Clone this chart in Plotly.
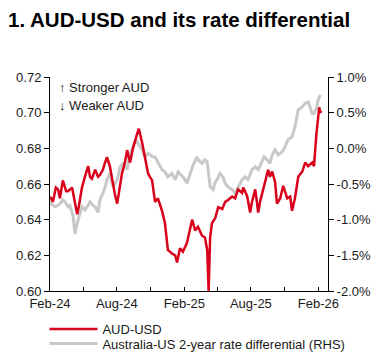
import plotly.graph_objects as go

# ---- Data ----
aud_dates = [
    "2024-02-01", "2024-02-09", "2024-02-17", "2024-02-23", "2024-02-28", "2024-03-07", "2024-03-16",
    "2024-03-21", "2024-04-01", "2024-04-09", "2024-04-15", "2024-04-20", "2024-04-28", "2024-05-06",
    "2024-05-15", "2024-05-20", "2024-05-25", "2024-06-03", "2024-06-11", "2024-06-16", "2024-06-24",
    "2024-06-30", "2024-07-05", "2024-07-13", "2024-07-22", "2024-07-27", "2024-08-02", "2024-08-07",
    "2024-08-15", "2024-08-23", "2024-08-29", "2024-09-06", "2024-09-14", "2024-09-25", "2024-09-30",
    "2024-10-09", "2024-10-17", "2024-10-25", "2024-10-30", "2024-11-05", "2024-11-13", "2024-11-21",
    "2024-12-02", "2024-12-10", "2024-12-18", "2024-12-29", "2025-01-07", "2025-01-12", "2025-01-20",
    "2025-01-28", "2025-02-08", "2025-02-16", "2025-02-22", "2025-03-02", "2025-03-10", "2025-03-21",
    "2025-03-29", "2025-04-04", "2025-04-08", "2025-04-12", "2025-04-17", "2025-04-26", "2025-05-04",
    "2025-05-15", "2025-05-23", "2025-05-31", "2025-06-11", "2025-06-19", "2025-06-27", "2025-07-08",
    "2025-07-11", "2025-07-16", "2025-07-22", "2025-07-30", "2025-08-04", "2025-08-13", "2025-08-18",
    "2025-08-21", "2025-08-26", "2025-09-03", "2025-09-09", "2025-09-17", "2025-09-22", "2025-09-28",
    "2025-10-06", "2025-10-11", "2025-10-20", "2025-10-28", "2025-11-08", "2025-11-16", "2025-11-21",
    "2025-11-29", "2025-12-08", "2025-12-19", "2025-12-27", "2026-01-04", "2026-01-15", "2026-01-20",
    "2026-01-26", "2026-01-31", "2026-02-03", "2026-02-06", "2026-02-08",
]
aud_usd = [
    0.653, 0.650, 0.658, 0.657, 0.652, 0.662, 0.656,
    0.656, 0.658, 0.650, 0.643, 0.648, 0.658, 0.664,
    0.670, 0.664, 0.663, 0.668, 0.664, 0.665, 0.668,
    0.672, 0.675, 0.670, 0.659, 0.654, 0.649, 0.656,
    0.666, 0.672, 0.679, 0.672, 0.680, 0.688, 0.691,
    0.683, 0.675, 0.666, 0.664, 0.662, 0.650, 0.652,
    0.645, 0.638, 0.623, 0.621, 0.620, 0.616, 0.624,
    0.622, 0.627, 0.634, 0.640, 0.634, 0.636, 0.631,
    0.630, 0.623, 0.600, 0.630, 0.638, 0.641, 0.647,
    0.646, 0.650, 0.651, 0.653, 0.652, 0.657, 0.655,
    0.658, 0.656, 0.653, 0.644, 0.650, 0.657, 0.650,
    0.644, 0.650, 0.657, 0.662, 0.668, 0.664, 0.667,
    0.661, 0.649, 0.652, 0.659, 0.652, 0.653, 0.645,
    0.652, 0.664, 0.667, 0.672, 0.670, 0.672, 0.670,
    0.687, 0.697, 0.703, 0.700, 0.701,
]

diff_dates = [
    "2024-02-01", "2024-02-09", "2024-02-15", "2024-02-23", "2024-02-28", "2024-03-07", "2024-03-13",
    "2024-03-21", "2024-03-26", "2024-04-04", "2024-04-09", "2024-04-15", "2024-04-17", "2024-04-23",
    "2024-04-28", "2024-05-06", "2024-05-15", "2024-05-20", "2024-05-28", "2024-06-03", "2024-06-11",
    "2024-06-16", "2024-06-24", "2024-06-30", "2024-07-05", "2024-07-13", "2024-07-22", "2024-08-02",
    "2024-08-10", "2024-08-18", "2024-08-29", "2024-09-06", "2024-09-14", "2024-09-22", "2024-09-28",
    "2024-10-09", "2024-10-17", "2024-10-25", "2024-11-02", "2024-11-08", "2024-11-13", "2024-11-21",
    "2024-12-02", "2024-12-10", "2024-12-18", "2024-12-29", "2025-01-07", "2025-01-15", "2025-01-26",
    "2025-02-03", "2025-02-08", "2025-02-16", "2025-02-25", "2025-03-07", "2025-03-10", "2025-03-21",
    "2025-03-29", "2025-04-04", "2025-04-08", "2025-04-12", "2025-04-20", "2025-04-26", "2025-05-01",
    "2025-05-09", "2025-05-17", "2025-05-23", "2025-05-31", "2025-06-11", "2025-06-19", "2025-06-27",
    "2025-07-08", "2025-07-16", "2025-07-24", "2025-08-04", "2025-08-13", "2025-08-21", "2025-09-01",
    "2025-09-06", "2025-09-14", "2025-09-22", "2025-09-28", "2025-10-06", "2025-10-14", "2025-10-25",
    "2025-11-02", "2025-11-10", "2025-11-21", "2025-11-29", "2025-12-08", "2025-12-19", "2025-12-27",
    "2026-01-04", "2026-01-09", "2026-01-15", "2026-01-20", "2026-01-28", "2026-01-31", "2026-02-06",
]
rate_diff = [
    -0.75, -0.80, -0.82, -0.80, -0.78, -0.72, -0.75,
    -0.82, -0.80, -0.95, -1.20, -1.05, -1.00, -0.90,
    -0.82, -0.86, -0.80, -0.75, -0.80, -0.82, -0.90,
    -0.72, -0.63, -0.55, -0.44, -0.35, -0.54, -0.44,
    -0.26, -0.21, -0.30, -0.07, 0.02, 0.12, 0.07,
    -0.02, -0.12, -0.07, -0.10, -0.12, -0.12, -0.19,
    -0.30, -0.33, -0.40, -0.35, -0.44, -0.33, -0.40,
    -0.44, -0.49, -0.37, -0.23, -0.12, -0.16, -0.21,
    -0.16, -0.19, -0.40, -0.54, -0.58, -0.47, -0.44,
    -0.35, -0.40, -0.49, -0.54, -0.58, -0.63, -0.54,
    -0.44, -0.40, -0.44, -0.30, -0.26, -0.30, -0.16,
    -0.12, -0.16, -0.21, -0.09, -0.02, -0.09, -0.05,
    0.02, 0.12, 0.16, 0.30, 0.54, 0.58, 0.63,
    0.65, 0.58, 0.49, 0.49, 0.58, 0.68, 0.75,
]

left_ticks = [0.60, 0.62, 0.64, 0.66, 0.68, 0.70, 0.72]
left_labels = ["0.60", "0.62", "0.64", "0.66", "0.68", "0.70", "0.72"]
right_ticks = [-2.0, -1.5, -1.0, -0.5, 0.0, 0.5, 1.0]
right_labels = ["-2.0%", "-1.5%", "-1.0%", "-0.5%", "0.0%", "0.5%", "1.0%"]

RED = "#D8001A"
GREY = "#C8C8C8"
FONT = "Liberation Sans, Arial, sans-serif"
TXT = "#1a1a1a"
FS = 13

fig = go.Figure()
fig.add_trace(go.Scatter(
    x=diff_dates, y=rate_diff, mode="lines", yaxis="y",
    name="Australia-US 2-year rate differential (RHS)",
    line=dict(color=GREY, width=3), legend="legend2",
))
fig.add_trace(go.Scatter(
    x=aud_dates, y=aud_usd, mode="lines", yaxis="y2",
    name="AUD-USD", line=dict(color=RED, width=2.5), legend="legend",
))

legend_common = dict(
    orientation="v", x=-0.02, xanchor="left", yanchor="top",
    font=dict(size=FS, color=TXT), itemwidth=48, tracegroupgap=0,
    bgcolor="rgba(0,0,0,0)",
)

fig.update_layout(
    width=382, height=352,
    margin=dict(l=50, r=54, t=77, b=61, autoexpand=False),
    paper_bgcolor="white", plot_bgcolor="white",
    font=dict(family=FONT, size=FS, color=TXT),
    title=dict(text="<b>1. AUD-USD and its rate differential</b>",
               x=8 / 382, xanchor="left", y=1 - 20 / 352, yanchor="middle",
               font=dict(family=FONT, size=20.5, color="#000000")),
    xaxis=dict(
        type="date", range=["2024-02-01", "2026-02-27"],
        dtick="M6", tick0="2024-02-01", tickformat="%b-%y",
        ticks="inside", ticklen=4, tickcolor="#000", tickwidth=1,
        minor=dict(dtick="M3", tick0="2024-02-01", ticks="inside", ticklen=4, tickcolor="#000"),
        showline=True, linecolor="#000", linewidth=1,
        showgrid=False, zeroline=False, tickfont=dict(size=FS, color=TXT),
    ),
    yaxis=dict(
        side="right", range=[-2.0, 1.0], tickvals=right_ticks, ticktext=right_labels,
        ticks="outside", ticklen=5, tickcolor="#000",
        showline=True, linecolor="#000", linewidth=1,
        showgrid=False, zeroline=False, tickfont=dict(size=FS, color=TXT),
    ),
    yaxis2=dict(
        side="left", overlaying="y", range=[0.60, 0.72], tickvals=left_ticks, ticktext=left_labels,
        ticks="outside", ticklen=5, tickcolor="#000",
        showline=True, linecolor="#000", linewidth=1,
        showgrid=False, zeroline=False, tickfont=dict(size=FS, color=TXT),
    ),
    showlegend=True,
    legend=dict(legend_common, y=-(314 - 291) / 214),
    legend2=dict(legend_common, y=-(328.5 - 291) / 214),
    annotations=[
        dict(text="↑ Stronger AUD", xref="paper", yref="paper", x=7 / 278, y=(291 - 87) / 214,
             xanchor="left", yanchor="middle", showarrow=False, font=dict(size=FS, color=TXT)),
        dict(text="↓ Weaker AUD", xref="paper", yref="paper", x=7 / 278, y=(291 - 105) / 214,
             xanchor="left", yanchor="middle", showarrow=False, font=dict(size=FS, color=TXT)),
    ],
)

fig.write_html("out.html")
